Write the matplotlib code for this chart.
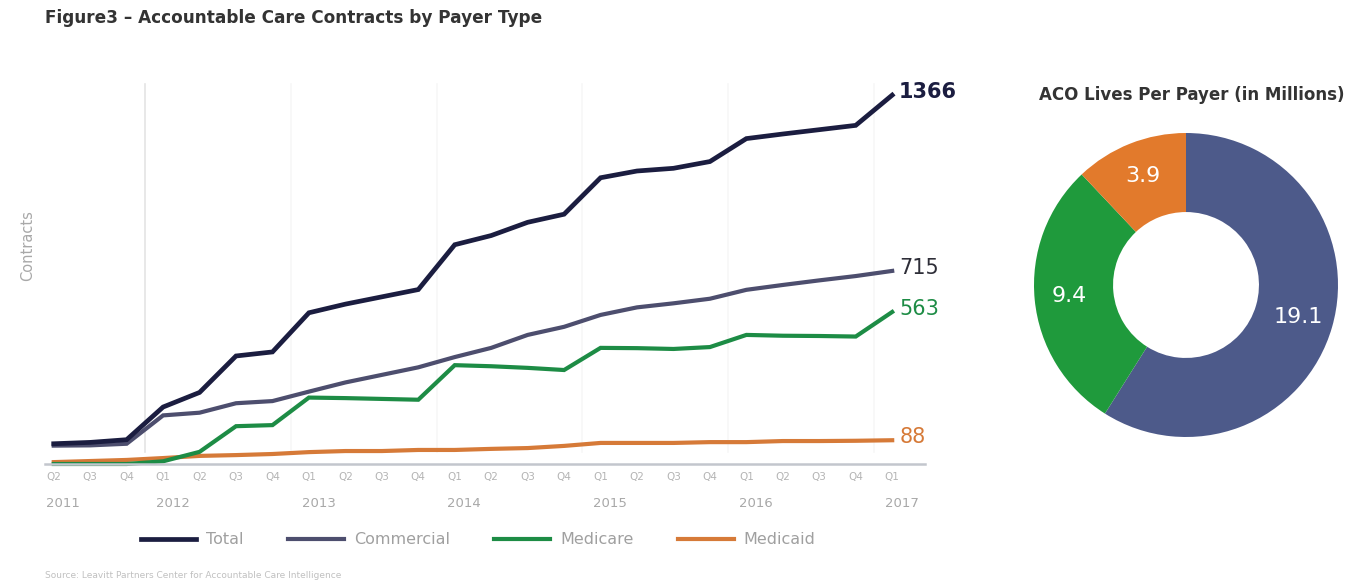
import matplotlib.pyplot as plt
from matplotlib.transforms import blended_transform_factory
import numpy as np

# quarterly contract counts, Q2 2011 - Q1 2017
quarters = ["Q2", "Q3", "Q4",
            "Q1", "Q2", "Q3", "Q4",
            "Q1", "Q2", "Q3", "Q4",
            "Q1", "Q2", "Q3", "Q4",
            "Q1", "Q2", "Q3", "Q4",
            "Q1", "Q2", "Q3", "Q4",
            "Q1"]
years = ["2011", "2012", "2013", "2014", "2015", "2016", "2017"]
year_start_idx = [0, 3, 7, 11, 15, 19, 23]

total = [75, 80, 90, 211, 265, 400, 415, 560, 592, 619, 646, 812,
         846, 895, 925, 1060, 1085, 1095, 1120, 1205, 1222, 1238, 1254, 1366]
commercial = [68, 69, 75, 180, 190, 225, 233, 268, 302, 330, 358, 396,
              430, 478, 508, 552, 580, 595, 612, 645, 663, 680, 696, 715]
medicare = [0, 0, 0, 10, 45, 140, 144, 246, 244, 241, 238, 366,
            362, 356, 348, 430, 429, 426, 433, 478, 475, 474, 472, 563]
medicaid = [7, 11, 15, 22, 30, 33, 37, 44, 48, 48, 52, 52,
            56, 59, 67, 78, 78, 78, 81, 81, 85, 85, 86, 88]

# ACO lives per payer (millions)
payers = ["Commercial", "Medicare", "Medicaid"]
lives = [19.1, 9.4, 3.9]

c_total = "#1b1d40"
c_comm = "#4d4e6e"
c_mcare = "#1d8c45"
c_mcaid = "#d67a38"

W, H = 1355, 583
fig = plt.figure(figsize=(W / 100, H / 100), dpi=100)
fig.patch.set_facecolor("white")

# --- line chart ---
ax = fig.add_axes([45 / W, 1 - 464 / H, 880 / W, 384 / H])
x = np.arange(len(quarters))

series = [("Total", total, c_total, 3.4),
          ("Commercial", commercial, c_comm, 3.0),
          ("Medicare", medicare, c_mcare, 3.0),
          ("Medicaid", medicaid, c_mcaid, 3.0)]
handles = []
for name, vals, col, lw in series[::-1]:
    ln, = ax.plot(x, vals, color=col, lw=lw, solid_joinstyle="miter",
                  clip_on=False, label=name)
    handles.append(ln)
handles = handles[::-1]

ax.set_xlim(-0.24, 23.9)
ax.set_ylim(0, 1422)

# faint year separators
for i, b in enumerate([2.5, 6.5, 10.5, 14.5, 18.5, 22.5]):
    ax.axvline(b, ymin=0.03, ymax=0.99, color="#e4e4e4" if i == 0 else "#f7f7f7",
               lw=1.2, zorder=0)

for s in ["top", "right", "left"]:
    ax.spines[s].set_visible(False)
ax.spines["bottom"].set_color("#c3c6cd")
ax.spines["bottom"].set_linewidth(1.8)
ax.set_yticks([])
ax.set_xticks(x)
ax.set_xticklabels(quarters, fontsize=7.5, color="#b4b4b4")
ax.tick_params(axis="x", length=0, pad=6)

trans = blended_transform_factory(ax.transData, ax.transAxes)
for yr, idx in zip(years, year_start_idx):
    ax.text(idx - 0.2, -0.102, yr, transform=trans, ha="left", va="center",
            fontsize=9.5, color="#a8a8a8")

ax.set_ylabel("Contracts", fontsize=10.5, color="#a8a8a8")
ax.yaxis.set_label_coords(-0.011, 0.57)

# end-of-line values
end_labels = [(total, c_total, "bold"), (commercial, "#2e2e38", "normal"),
              (medicare, c_mcare, "normal"), (medicaid, c_mcaid, "normal")]
for vals, col, wt in end_labels:
    ax.annotate(str(vals[-1]), (x[-1], vals[-1]), xytext=(5, 2),
                textcoords="offset points", ha="left", va="center",
                fontsize=15, color=col, fontweight=wt)

fig.legend(handles=handles, loc="center", ncol=4, frameon=False,
           bbox_to_anchor=(478 / W, 1 - 540 / H), fontsize=11.5,
           handlelength=3.5, handletextpad=0.6, columnspacing=2.8,
           labelcolor="#a0a0a0")

fig.text(45 / W, 1 - 18 / H, "Figure3 \u2013 Accountable Care Contracts by Payer Type",
         fontsize=12.2, fontweight="bold", color="#333333", ha="left", va="center")
fig.text(45 / W, 1 - 575 / H,
         "Source: Leavitt Partners Center for Accountable Care Intelligence",
         fontsize=6.5, color="#c0c0c0", ha="left", va="center")

# --- donut chart ---
ax2 = fig.add_axes([(1186 - 152) / W, 1 - (285 + 152) / H, 304 / W, 304 / H])
wedges, _ = ax2.pie(lives, colors=["#4d5a8a", "#1f9a3c", "#e27a2c"],
                    startangle=90, counterclock=False, radius=1,
                    wedgeprops=dict(width=0.52, edgecolor="none"))
for w, v in zip(wedges, lives):
    ang = np.deg2rad((w.theta1 + w.theta2) / 2)
    r = 0.77
    ax2.text(r * np.cos(ang), r * np.sin(ang), f"{v}", ha="center", va="center",
             fontsize=16, color="white")
ax2.set_xlim(-1, 1)
ax2.set_ylim(-1, 1)
ax2.set_aspect("equal")
ax2.axis("off")

fig.text(1192 / W, 1 - 95 / H, "ACO Lives Per Payer (in Millions)",
         fontsize=12, fontweight="bold", color="#333333", ha="center", va="center")

fig.savefig("out.png", dpi=100, facecolor="white")
